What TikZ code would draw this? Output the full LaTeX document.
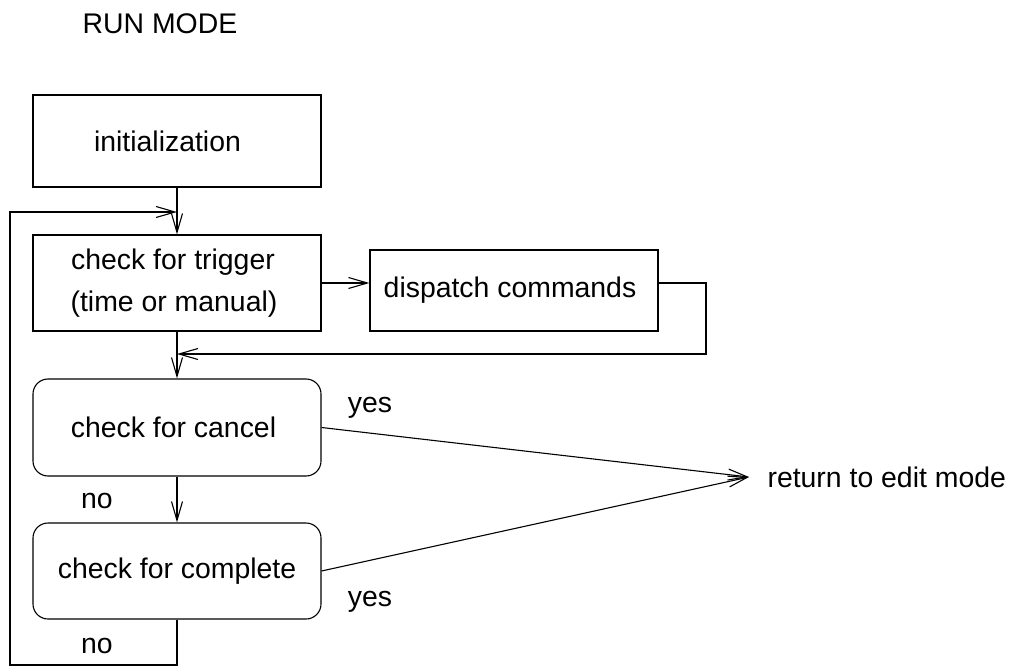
\documentclass[tikz,border=0pt]{standalone}
\usepackage{fontspec}
\setmainfont{Liberation Sans}
\usetikzlibrary{arrows.meta}
\newcommand{\rpad}[1]{\hspace*{#1}}
\begin{document}
\begin{tikzpicture}[x=1pt,y=-1pt,line width=1.1pt,
  every node/.style={font=\fontsize{28.4}{42}\selectfont},
  box/.style={draw,minimum width=288pt,inner sep=0pt,align=center},
  rbox/.style={box,rounded corners=15pt},
  arr/.style={-{Straight Barb[length=19pt,width=11pt]}},
  lbl/.style={inner sep=0pt}]
\useasboundingbox (0,0) rectangle (1011,668);
\node[lbl] (title) at (160,24) {RUN MODE};
\node[box,minimum height=92pt] (init) at (177,141) {initialization\rpad{19pt}};
\node[box,minimum height=96pt] (trig) at (177,283) {check for trigger\rpad{8pt}\\(time or manual)\rpad{6pt}};
\node[box,minimum height=81pt] (disp) at (514,290.5) {dispatch commands\rpad{8pt}};
\node[rbox,minimum height=97pt] (cancel) at (177,427.5) {check for cancel\rpad{7pt}};
\node[rbox,minimum height=96pt] (complete) at (177,571) {check for complete};
\node[anchor=west,inner xsep=18pt,inner ysep=0pt] (ret) at (749,477) {return to edit mode};
\node[lbl] (yes1) at (370,408) {yes};
\node[lbl] (yes2) at (370,602) {yes};
\node[lbl] (no1) at (97,501) {no};
\node[lbl] (no2) at (97,646) {no};
\coordinate (j1) at (177,212);
\coordinate (j2) at (177,354);
\coordinate (bl) at (10,665);
\coordinate (dr) at (706,354);
\draw[arr] (init.south) -- (trig.north);
\draw[arr] (complete.south) |- (bl) |- (j1);
\draw[arr] (trig.east) -- (trig.east -| disp.west);
\draw[arr] (trig.east -| disp.east) -| (dr) -- (j2);
\draw[arr] (trig.south) -- (cancel.north);
\draw[arr] (cancel.south) -- (complete.north);
\draw[arr] (cancel.east) -- (ret.west);
\draw[arr] (complete.east) -- (ret.west);
\end{tikzpicture}
\end{document}
